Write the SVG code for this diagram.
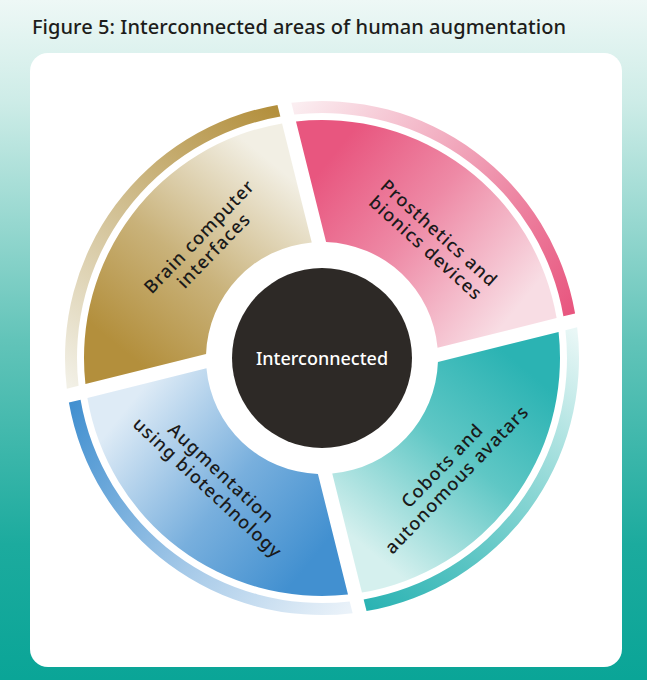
<svg xmlns="http://www.w3.org/2000/svg" width="647" height="680" viewBox="0 0 647 680">
<defs>
<linearGradient id="bg" x1="0" y1="0" x2="0" y2="1">
<stop offset="0" stop-color="#eef8f6"/>
<stop offset="0.15" stop-color="#cdece7"/>
<stop offset="0.5" stop-color="#62c4b9"/>
<stop offset="0.8" stop-color="#1cab9e"/>
<stop offset="1" stop-color="#0aa597"/>
</linearGradient>
<linearGradient id="gGold" gradientUnits="userSpaceOnUse" x1="146" y1="369" x2="297" y2="183">
<stop offset="0" stop-color="#b38f3c"/>
<stop offset="0.45" stop-color="#c9b27a"/>
<stop offset="1" stop-color="#f2efe4"/>
</linearGradient>
<linearGradient id="gPink" gradientUnits="userSpaceOnUse" x1="311" y1="182" x2="497" y2="333">
<stop offset="0" stop-color="#e8567f"/>
<stop offset="0.45" stop-color="#ee8aa6"/>
<stop offset="1" stop-color="#f8dde4"/>
</linearGradient>
<linearGradient id="gTeal" gradientUnits="userSpaceOnUse" x1="498" y1="347" x2="347" y2="533">
<stop offset="0" stop-color="#2bb3b3"/>
<stop offset="0.45" stop-color="#5fc7c5"/>
<stop offset="1" stop-color="#d5f0ee"/>
</linearGradient>
<linearGradient id="gBlue" gradientUnits="userSpaceOnUse" x1="333" y1="534" x2="147" y2="383">
<stop offset="0" stop-color="#4290d0"/>
<stop offset="0.45" stop-color="#78afdd"/>
<stop offset="1" stop-color="#deebf6"/>
</linearGradient>
<linearGradient id="bGold" gradientUnits="userSpaceOnUse" x1="72" y1="387" x2="279" y2="110">
<stop offset="0" stop-color="#f2f0e6"/>
<stop offset="0.45" stop-color="#d4c49a"/>
<stop offset="1" stop-color="#b38f3c"/>
</linearGradient>
<linearGradient id="bPink" gradientUnits="userSpaceOnUse" x1="292" y1="108" x2="569" y2="315">
<stop offset="0" stop-color="#fbeef1"/>
<stop offset="0.45" stop-color="#f1a6bb"/>
<stop offset="1" stop-color="#e8567f"/>
</linearGradient>
<linearGradient id="bTeal" gradientUnits="userSpaceOnUse" x1="571" y1="328" x2="365" y2="605">
<stop offset="0" stop-color="#e9f7f6"/>
<stop offset="0.45" stop-color="#8ad6d4"/>
<stop offset="1" stop-color="#2bb3b3"/>
</linearGradient>
<linearGradient id="bBlue" gradientUnits="userSpaceOnUse" x1="351" y1="607" x2="75" y2="401">
<stop offset="0" stop-color="#eaf2f9"/>
<stop offset="0.45" stop-color="#a5c9e8"/>
<stop offset="1" stop-color="#4290d0"/>
</linearGradient>
<style>
.lbl{font-family:"Noto Sans","Open Sans","Liberation Sans",sans-serif;font-size:18px;font-weight:500;fill:#1a1a1a;text-anchor:middle;dominant-baseline:central;letter-spacing:1.1px}
.ctr{font-family:"Noto Sans","Open Sans","Liberation Sans",sans-serif;font-size:18px;font-weight:500;fill:#ffffff;text-anchor:middle;dominant-baseline:central}
.ttl{font-family:"Noto Sans","Open Sans","Liberation Sans",sans-serif;font-size:20px;font-weight:500;fill:#1d1d1b}
</style>
</defs>
<rect x="0" y="0" width="647" height="680" fill="url(#bg)"/>
<text class="ttl" x="32" y="34" textLength="534" lengthAdjust="spacing">Figure 5: Interconnected areas of human augmentation</text>
<rect x="30" y="53" width="592" height="614" rx="18" fill="#ffffff"/>

<g id="brain-computer-interfaces">
<path d="M 85.42 384.0 A 238 238 0 0 1 282.06 123.38 L 311.75 242.45 A 116 116 0 0 0 206.07 353.92 Z" fill="url(#gGold)"/>
<path d="M 78.57 385.71 A 245 245 0 0 1 280.36 116.57 L 277.45 104.89 A 257 257 0 0 0 66.83 388.64 Z" fill="url(#bGold)"/>
<g transform="translate(206,243) rotate(-46)">
<text class="lbl" x="0" y="-10">Brain computer</text>
<text class="lbl" x="0" y="10">interfaces</text>
</g>
</g>

<g id="prosthetics-bionics">
<path d="M 296.0 121.42 A 238 238 0 0 1 556.62 318.06 L 437.55 347.75 A 116 116 0 0 0 326.08 242.07 Z" fill="url(#gPink)"/>
<path d="M 294.29 114.57 A 245 245 0 0 1 563.43 316.36 L 575.11 313.45 A 257 257 0 0 0 291.36 102.83 Z" fill="url(#bPink)"/>
<g transform="translate(433,240) rotate(42)">
<text class="lbl" x="0" y="-10">Prosthetics and</text>
<text class="lbl" x="0" y="10">bionics devices</text>
</g>
</g>

<g id="cobots-avatars">
<path d="M 558.58 332.0 A 238 238 0 0 1 361.94 592.62 L 332.25 473.55 A 116 116 0 0 0 437.93 362.08 Z" fill="url(#gTeal)"/>
<path d="M 565.43 330.29 A 245 245 0 0 1 363.64 599.43 L 366.55 611.11 A 257 257 0 0 0 577.17 327.36 Z" fill="url(#bTeal)"/>
<g transform="translate(449,472) rotate(-46)">
<text class="lbl" x="0" y="-10">Cobots and</text>
<text class="lbl" x="0" y="10">autonomous avatars</text>
</g>
</g>

<g id="augmentation-biotech">
<path d="M 348.0 594.58 A 238 238 0 0 1 87.38 397.94 L 206.45 368.25 A 116 116 0 0 0 317.92 473.93 Z" fill="url(#gBlue)"/>
<path d="M 349.71 601.43 A 245 245 0 0 1 80.57 399.64 L 68.89 402.55 A 257 257 0 0 0 352.64 613.17 Z" fill="url(#bBlue)"/>
<g transform="translate(215,480) rotate(43)">
<text class="lbl" x="0" y="-10">Augmentation</text>
<text class="lbl" x="0" y="10">using biotechnology</text>
</g>
</g>

<g id="interconnected">
<circle cx="322" cy="358" r="90" fill="#2d2926"/>
<text class="ctr" x="322" y="358">Interconnected</text>
</g>

<g id="connectors"></g>
</svg>
